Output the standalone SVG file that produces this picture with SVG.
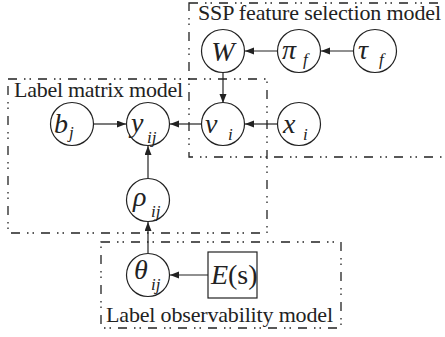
<svg xmlns="http://www.w3.org/2000/svg" width="445" height="337" viewBox="0 0 445 337">
<defs>
<marker id="ah" markerUnits="userSpaceOnUse" markerWidth="10" markerHeight="8" refX="9" refY="3.5" orient="auto">
<path d="M0,0 L9,3.5 L0,7 z" fill="#222"/>
</marker>
</defs>
<g id="plates" fill="none" stroke="#222" stroke-width="1.3" stroke-dasharray="9 7 1.5 4 1.5 7">
<rect x="189" y="3" width="270" height="154"/>
<rect x="8" y="79" width="259" height="154"/>
<rect x="101" y="242" width="240" height="86"/>
</g>
<text x="198" y="20" font-family="Times New Roman" font-size="22" textLength="243" fill="#222">SSP feature selection model</text>
<text x="14" y="97" font-family="Times New Roman" font-size="22" textLength="169" fill="#222">Label matrix model</text>
<text x="106" y="322" font-family="Times New Roman" font-size="22" textLength="227" fill="#222">Label observability model</text>
<g id="connectors" stroke="#222" stroke-width="1.2" fill="none" marker-end="url(#ah)">
<line x1="278" y1="51" x2="245" y2="51"/>
<line x1="354" y1="51" x2="321" y2="51"/>
<line x1="223" y1="72" x2="223" y2="103"/>
<line x1="277" y1="124" x2="245" y2="124"/>
<line x1="201" y1="124" x2="170" y2="124"/>
<line x1="94" y1="124" x2="126" y2="124"/>
<line x1="148" y1="178" x2="148" y2="146"/>
<line x1="148" y1="253" x2="148" y2="222"/>
<line x1="208" y1="275" x2="170" y2="275"/>
</g>
<g id="W"><circle cx="223" cy="51" r="21.5" fill="#fff" stroke="#222" stroke-width="1.2"/><text x="223" y="61" font-family="Times New Roman" font-style="italic" font-size="28" text-anchor="middle" fill="#222">W</text></g>
<g id="pi_f"><circle cx="299" cy="51" r="21.5" fill="#fff" stroke="#222" stroke-width="1.2"/><text x="282" y="59" font-family="Times New Roman" font-style="italic" font-size="28" fill="#222">π</text><text x="303" y="65" font-family="Times New Roman" font-style="italic" font-size="17" fill="#222">f</text></g>
<g id="tau_f"><circle cx="375" cy="51" r="21.5" fill="#fff" stroke="#222" stroke-width="1.2"/><text x="358" y="59" font-family="Times New Roman" font-style="italic" font-size="28" fill="#222">τ</text><text x="379" y="65" font-family="Times New Roman" font-style="italic" font-size="17" fill="#222">f</text></g>
<g id="b_j"><circle cx="72" cy="124" r="21.5" fill="#fff" stroke="#222" stroke-width="1.2"/><text x="54" y="133" font-family="Times New Roman" font-style="italic" font-size="28" fill="#222">b</text><text x="69" y="138" font-family="Times New Roman" font-style="italic" font-size="17" fill="#222">j</text></g>
<g id="y_ij"><circle cx="148" cy="124" r="21.5" fill="#fff" stroke="#222" stroke-width="1.2"/><text x="131" y="132" font-family="Times New Roman" font-style="italic" font-size="28" fill="#222">y</text><text x="147" y="143" font-family="Times New Roman" font-style="italic" font-size="17" fill="#222">ij</text></g>
<g id="v_i"><circle cx="223" cy="124" r="21.5" fill="#fff" stroke="#222" stroke-width="1.2"/><text x="205" y="133" font-family="Times New Roman" font-style="italic" font-size="28" fill="#222">v</text><text x="228" y="140" font-family="Times New Roman" font-style="italic" font-size="17" fill="#222">i</text></g>
<g id="x_i"><circle cx="299" cy="124" r="21.5" fill="#fff" stroke="#222" stroke-width="1.2"/><text x="283" y="133" font-family="Times New Roman" font-style="italic" font-size="28" fill="#222">x</text><text x="303" y="140" font-family="Times New Roman" font-style="italic" font-size="17" fill="#222">i</text></g>
<g id="rho_ij"><circle cx="148" cy="200" r="21.5" fill="#fff" stroke="#222" stroke-width="1.2"/><text x="133" y="206" font-family="Times New Roman" font-style="italic" font-size="28" fill="#222">ρ</text><text x="151" y="217" font-family="Times New Roman" font-style="italic" font-size="17" fill="#222">ij</text></g>
<g id="theta_ij"><circle cx="148" cy="275" r="21.5" fill="#fff" stroke="#222" stroke-width="1.2"/><text x="134" y="279" font-family="Times New Roman" font-style="italic" font-size="28" fill="#222">θ</text><text x="151" y="290" font-family="Times New Roman" font-style="italic" font-size="17" fill="#222">ij</text></g>
<g id="E_s"><rect x="208" y="252" width="49" height="46" fill="#fff" stroke="#222" stroke-width="1.2"/><text x="211" y="284" font-family="Times New Roman" font-style="italic" font-size="28" fill="#222">E</text><text x="228" y="284" font-family="Times New Roman" font-size="28" fill="#222">(s)</text></g>
</svg>
